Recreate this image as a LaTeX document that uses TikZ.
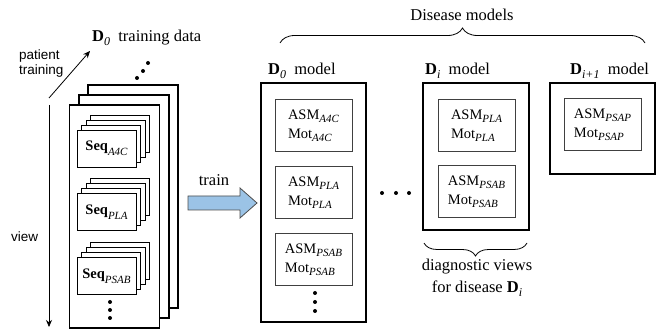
\documentclass[tikz,border=0pt]{standalone}
\usepackage{fontspec}
\setmainfont{Liberation Serif}
\newfontfamily\arialf{Liberation Sans}
\usetikzlibrary{decorations.pathreplacing,arrows.meta}
\definecolor{arrowblue}{RGB}{155,195,230}
\newcommand\sbs[2]{\raisebox{-0.5ex}{\fontsize{#1}{#1}\selectfont\itshape #2}}
\newcommand\sqsb[1]{\raisebox{-0.8ex}{\fontsize{11}{11}\selectfont\itshape #1}}
\newcommand\seqstack[3]{%
  \foreach \k in {3,2,1} {\node[seqbox] (#1-\k) at ({106.5+4.5*\k},{#2-5*\k}) {};}
  \node[seqbox] (#1) at (106.5,#2) {\textbf{Seq}\sqsb{#3}};}
\begin{document}
\begin{tikzpicture}[x=1pt,y=-1pt,
 frame/.style={draw, line width=1.6pt, fill=white, inner sep=0, minimum width=90pt, minimum height=223pt},
 seqbox/.style={draw, line width=0.9pt, fill=white, minimum width=59pt, minimum height=37pt, inner sep=0, font=\fontsize{14.5}{16}\selectfont},
 mbox/.style={draw, line width=2pt, inner sep=0, minimum width=105pt},
 ibox/.style={draw=black!75, line width=1pt, minimum width=77pt, minimum height=52pt, inner sep=0, align=left, font=\fontsize{14.5}{19}\selectfont},
 hdr/.style={font=\fontsize{16.5}{19}\selectfont, inner sep=0},
 sans/.style={font=\arialf\fontsize{13.5}{15.5}\selectfont, inner sep=0},
 dot/.style={circle, fill, inner sep=0, minimum size=4pt},
 arr/.style={-{Stealth[length=7pt,width=6pt]}, line width=0.8pt},
]
\useasboundingbox (0,0) rectangle (662,331);
% training data frames
\node[frame] (f3) at (133,196.5) {};
\node[frame] (f2) at (124,206.5) {};
\node[frame] (f1) at (114.5,216.5) {};
\seqstack{sa}{148.5}{A4C}
\seqstack{sb}{212}{PLA}
\seqstack{sc}{276}{PSAB}
\node[dot] (fd1) at (110,302) {};
\node[dot] (fd2) at (110,310) {};
\node[dot] (fd3) at (110,318) {};
\node[dot] (td1) at (137,78) {};
\node[dot] (td2) at (143,71) {};
\node[dot] (td3) at (148,63) {};
\node[hdr, anchor=base west] (tdata) at (92,42) {\textbf{D}\sbs{12}{0}\ \ training data};
% axes
\coordinate (o1) at (49,98);
\coordinate (o2) at (90,51);
\coordinate (v1) at (49,105);
\coordinate (v2) at (49,327);
\draw[arr] (o1) -- (o2);
\draw[arr] (v1) -- (v2);
\node[sans, anchor=base west, align=left] (pt) at (19,75) {patient\\training};
\node[sans, anchor=base west] (vw) at (11,242) {view};
% train arrow
\draw[draw=black!70, fill=arrowblue, line width=0.8pt] (188,196) -- (240,196) -- (240,188) -- (257,203) -- (240,218) -- (240,210) -- (188,210) -- cycle;
\node[hdr, anchor=base] (tr) at (214,186) {train};
% D0 model
\node[mbox, minimum height=239pt] (m0) at (313.5,202.5) {};
\node[ibox] (m0a) at (313.5,126) {ASM\sbs{11}{A4C}\\Mot\sbs{11}{A4C}};
\node[ibox] (m0b) at (313.5,192.5) {ASM\sbs{11}{PLA}\\Mot\sbs{11}{PLA}};
\node[ibox] (m0c) at (313.5,259.5) {ASM\sbs{11}{PSAB}\\Mot\sbs{11}{PSAB}};
\node[dot] (md1) at (315,293) {};
\node[dot] (md2) at (315,302) {};
\node[dot] (md3) at (315,311) {};
\node[hdr, anchor=base west] (h0) at (268,75) {\textbf{D}\sbs{12}{0}\ \ model};
% ellipsis
\node[dot] (e1) at (382,193) {};
\node[dot] (e2) at (396,193) {};
\node[dot] (e3) at (409,193) {};
% Di model
\node[mbox, minimum width=106pt, minimum height=147pt] (mi) at (476,156.5) {};
\node[ibox] (mia) at (476.5,125.5) {ASM\sbs{11}{PLA}\\Mot\sbs{11}{PLA}};
\node[ibox] (mib) at (476.5,192) {ASM\sbs{11}{PSAB}\\Mot\sbs{11}{PSAB}};
\node[hdr, anchor=base west] (hi) at (425,75) {\textbf{D}\sbs{12}{i}\ \ model};
% Di+1 model
\node[mbox, minimum height=91pt] (mj) at (602.5,128.5) {};
\node[ibox] (mja) at (602.5,125) {ASM\sbs{11}{PSAP}\\Mot\sbs{11}{PSAP}};
\node[hdr, anchor=base west] (hj) at (570,75) {\textbf{D}\sbs{12}{i+1}\ \ model};
% braces
\coordinate (b1) at (280,43);
\coordinate (b2) at (645,43);
\draw[decorate, decoration={brace, amplitude=15pt}, line width=0.8pt] (b1) -- (b2);
\node[hdr, anchor=base] (dm) at (462,21) {Disease models};
\coordinate (c1) at (527,243);
\coordinate (c2) at (424,243);
\draw[decorate, decoration={brace, amplitude=13pt}, line width=0.8pt] (c1) -- (c2);
\node[hdr, anchor=base] (dv) at (477,271) {diagnostic views};
\node[hdr, anchor=base] (dv2) at (477,293) {for disease \textbf{D}\sbs{12}{i}};
\end{tikzpicture}
\end{document}
